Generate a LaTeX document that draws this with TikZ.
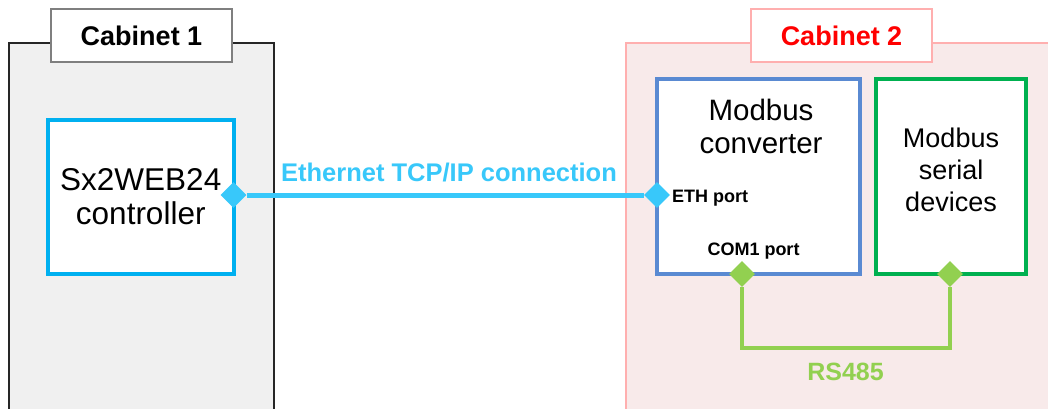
\documentclass[tikz,border=0pt]{standalone}
\usepackage{fontspec}
\setmainfont{Liberation Sans}
\usetikzlibrary{positioning,shapes.geometric}
\definecolor{CabGray}{HTML}{F0F0F0}
\definecolor{CabEdge}{HTML}{262626}
\definecolor{TagEdge}{HTML}{7F7F7F}
\definecolor{CabPink}{HTML}{F8EAEA}
\definecolor{CabPinkEdge}{HTML}{FFAFAF}
\definecolor{CabRed}{HTML}{FF0000}
\definecolor{CtrlCyan}{HTML}{00B0F0}
\definecolor{EthCyan}{HTML}{38C8FA}
\definecolor{ConvBlue}{HTML}{5A8AD2}
\definecolor{DevGreen}{HTML}{00B050}
\definecolor{BusGreen}{HTML}{92D050}
\tikzset{
  cabinet/.style={draw=CabEdge,line width=2pt,fill=CabGray,inner sep=0pt},
  cabinetpink/.style={cabinet,draw=CabPinkEdge,fill=CabPink},
  tag/.style={draw=TagEdge,line width=1.5pt,fill=white,minimum width=181pt,
              minimum height=53pt,font=\fontsize{27}{32}\selectfont\bfseries},
  tagpink/.style={tag,draw=CabPinkEdge,text=CabRed},
  unit/.style={draw,line width=4pt,fill=white,inner sep=0pt,align=center},
  port/.style={diamond,minimum width=26pt,minimum height=26pt,inner sep=0pt,draw=none},
  portcyan/.style={port,fill=EthCyan},
  portgreen/.style={port,fill=BusGreen},
  eth/.style={EthCyan,line width=5pt},
  bus/.style={BusGreen,line width=4pt},
  portlabel/.style={inner sep=0pt,font=\fontsize{18}{21}\selectfont\bfseries},
}
\begin{document}
\begin{tikzpicture}[x=1pt,y=-1pt]
  \useasboundingbox[fill=white] (0,0) rectangle (1048,409);

  % cabinets
  \node[cabinet,minimum width=265pt,minimum height=380pt] (cab1) at (141.5,233) {};
  \node[tag] (cab1tag) at (141.5,35.5) {Cabinet 1};
  \node[cabinetpink,minimum width=440pt,minimum height=380pt] (cab2) at (846,233) {};
  \node[tagpink] (cab2tag) at (841.5,35.5) {Cabinet 2};

  % devices
  \node[unit,draw=CtrlCyan,minimum width=185.5pt,minimum height=154pt,
        font=\fontsize{31.5}{34}\selectfont] (ctrl) at (140.75,196.5) {Sx2WEB24\\controller};
  \node[unit,draw=ConvBlue,minimum width=202.5pt,minimum height=194.5pt] (conv) at (758.25,176.75) {};
  \node[inner sep=0pt,align=center,font=\fontsize{29.5}{33}\selectfont] (convtext) at (761,126)
    {Modbus\\converter};
  \node[unit,draw=DevGreen,minimum width=150pt,minimum height=194.5pt,
        font=\fontsize{27}{32}\selectfont] (serial) at (951,176.75) {};
  \node[inner sep=0pt,align=center,font=\fontsize{27}{32}\selectfont] (serialtext) at (951,170)
    {Modbus\\serial\\devices};

  % ports
  \node[portcyan] (ctrlport) at (233.5,195) {};
  \node[portcyan] (ethport) at (657,195) {};
  \node[portgreen] (comport) at (742,274) {};
  \node[portgreen] (serport) at (950,274) {};
  \node[portlabel,anchor=base west] (ethtext) at (672,202) {ETH port};
  \node[portlabel,anchor=base] (comtext) at (753.5,255) {COM1 port};

  % links
  \draw[eth] (ctrlport.east) -- (ethport.west);
  \node[anchor=base,inner sep=0pt,text=EthCyan,font=\fontsize{25.5}{30}\selectfont\bfseries]
    (ethlabel) at (449,181) {Ethernet TCP/IP connection};
  \coordinate (rsbus) at (846,348);
  \draw[bus] (comport.south) |- (rsbus) -| (serport.south);
  \node[anchor=base,inner sep=0pt,text=BusGreen,font=\fontsize{25}{30}\selectfont\bfseries]
    (rslabel) at (845.5,380) {RS485};
\end{tikzpicture}
\end{document}
